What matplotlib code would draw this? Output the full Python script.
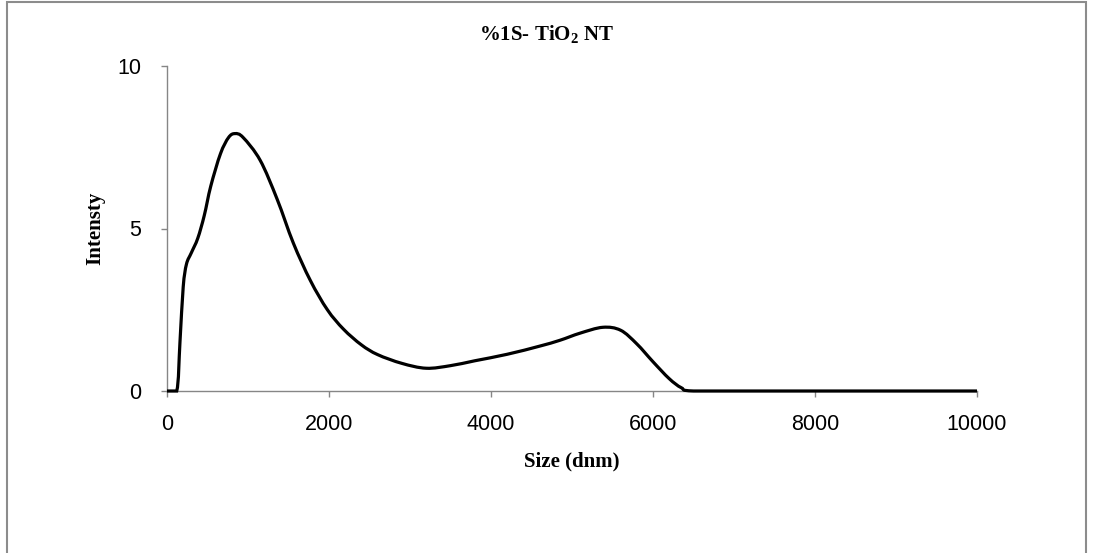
import numpy as np
import matplotlib
matplotlib.use("Agg")
from matplotlib import pyplot as plt
from matplotlib.path import Path
from matplotlib.patches import PathPatch, Rectangle

# size (dnm) and intensity
size = [0, 120, 160, 200, 240, 300, 380, 460, 540, 660, 760, 840, 940,
        1150, 1360, 1560, 1770, 1980, 2180, 2400, 2600, 2900, 3200, 3500,
        3800, 4200, 4600, 4850, 5100, 5380, 5600, 5800, 6000, 6200, 6350,
        6500, 7400, 8000, 9000, 10000]
intensity = [0, 0, 1.5, 3.2, 3.9, 4.25, 4.7, 5.4, 6.3, 7.3, 7.8, 7.92, 7.8,
             7.1, 5.9, 4.55, 3.4, 2.5, 1.9, 1.42, 1.12, 0.85, 0.7, 0.78,
             0.93, 1.13, 1.38, 1.56, 1.78, 1.96, 1.87, 1.45, 0.9, 0.38, 0.1,
             0.0, 0.0, 0.0, 0.0, 0.0]
x_ticks = [0, 2000, 4000, 6000, 8000, 10000]
y_ticks = [0, 5, 10]

tick_font = ['Liberation Sans', 'DejaVu Sans']
serif_font = ['Liberation Serif', 'DejaVu Serif']

plt.rcParams['mathtext.fontset'] = 'custom'
plt.rcParams['mathtext.rm'] = 'Liberation Serif'
plt.rcParams['mathtext.bf'] = 'Liberation Serif:bold'


def smooth_path(xs, ys):
    # excel style smoothed line: bezier through every point
    pts = np.column_stack([xs, ys]).astype(float)
    n = len(pts)
    verts = [pts[0]]
    codes = [Path.MOVETO]
    for i in range(n - 1):
        p0 = pts[max(i - 1, 0)]
        p1 = pts[i]
        p2 = pts[i + 1]
        p3 = pts[min(i + 2, n - 1)]
        c1 = p1 + (p2 - p0) / 6
        c2 = p2 - (p3 - p1) / 6
        # keep the curve from swinging under the axis
        c1[1] = max(c1[1], 0)
        c2[1] = max(c2[1], 0)
        verts += [c1, c2, p2]
        codes += [Path.CURVE4] * 3
    return Path(verts, codes)


fig = plt.figure(figsize=(10.94, 5.53), dpi=100)
ax = fig.add_axes([167 / 1094, 1 - 391 / 553, 810 / 1094, 325 / 553])

# outer chart border
fig.patches.append(Rectangle((7 / 1094, -0.05), 1079 / 1094, 1.05 - 2 / 553,
                             transform=fig.transFigure, fill=False,
                             edgecolor='#8c8c8c', linewidth=1.5))

ax.add_patch(PathPatch(smooth_path(size, intensity), facecolor='none',
                       edgecolor='black', linewidth=2.3, zorder=3,
                       clip_on=False))

ax.set_xlim(0, 10000)
ax.set_ylim(0, 10)
ax.set_xticks(x_ticks)
ax.set_yticks(y_ticks)
for s in ['top', 'right']:
    ax.spines[s].set_visible(False)
for s in ['left', 'bottom']:
    ax.spines[s].set_color('#868686')
    ax.spines[s].set_linewidth(1.0)
ax.tick_params(direction='out', length=4.5, width=1, color='#868686',
               labelsize=15.5)
ax.tick_params(axis='x', pad=12)
ax.tick_params(axis='y', pad=14)
for lab in ax.get_xticklabels() + ax.get_yticklabels():
    lab.set_family(tick_font)

fig.text(547 / 1094, 1 - 40 / 553, r'%1S- TiO$_\mathbf{2}$ NT', ha='center',
         va='baseline', fontsize=15, fontweight='bold', family=serif_font)
fig.text(95 / 1094, 1 - 228 / 553, 'Intensty', ha='center', va='center',
         rotation=90, fontsize=15, fontweight='bold', family=serif_font)
fig.text(572 / 1094, 1 - 461 / 553, 'Size (dnm)', ha='center', va='center',
         fontsize=15, fontweight='bold', family=serif_font)

fig.savefig('out.png', dpi=100)
